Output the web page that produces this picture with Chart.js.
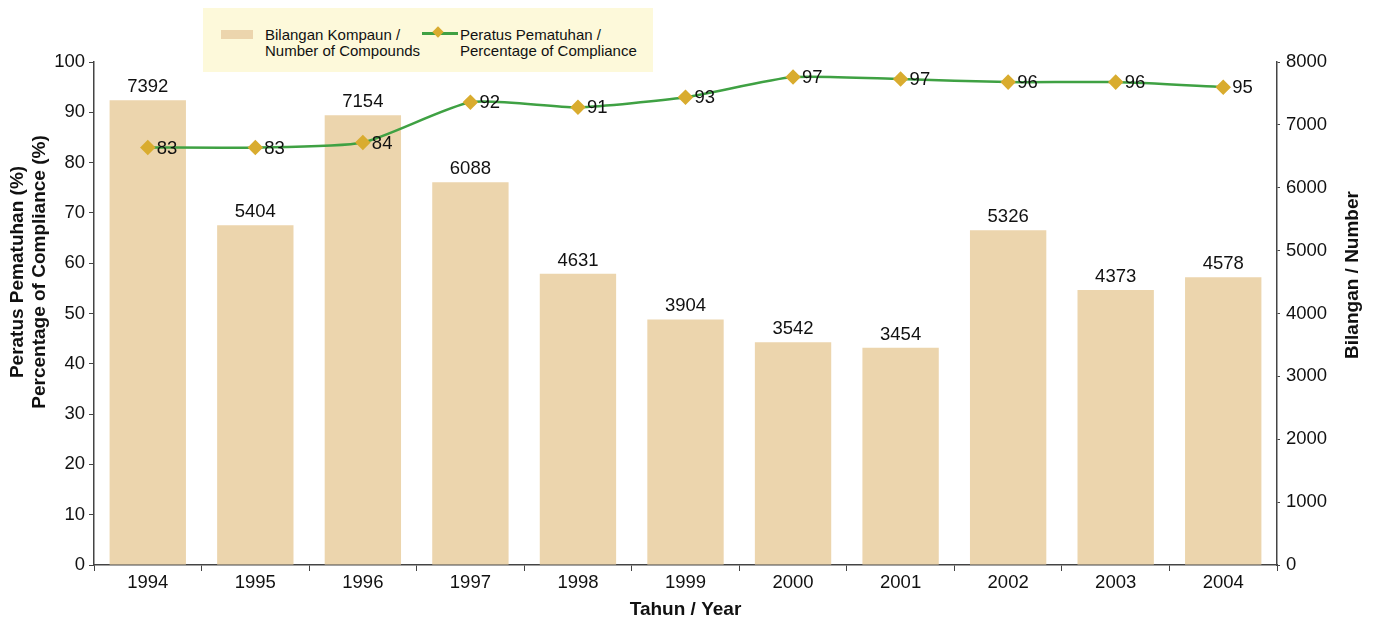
<!DOCTYPE html>
<html>
<head>
<meta charset="utf-8">
<script src="https://cdn.jsdelivr.net/npm/chart.js@4/dist/chart.umd.min.js"></script>
<style>
  html, body { margin: 0; padding: 0; background: #fff; }
  #wrap { position: relative; width: 1376px; height: 625px; }
  #legenda {
    position: absolute; left: 203px; top: 8px; width: 450px; height: 64px;
    background: #fdf9da; font-family: "Liberation Sans", Arial, sans-serif;
    font-size: 15px; line-height: 16px; color: #111;
  }
  .item { position: absolute; top: 19px; }
  .swatch { position: absolute; left: 18px; top: 22px; width: 32px; height: 9px; background: #ecd5ad; }
  .linha { position: absolute; left: 219px; top: 24px; width: 36px; height: 3px; background: #3fa143; }
  .losango { position: absolute; left: 231px; top: 20px; width: 8px; height: 8px; background: #d9ac2f; transform: rotate(45deg); }
</style>
</head>
<body>
<div id="wrap">
  <canvas id="grafico" width="1376" height="625"></canvas>
  <div id="legenda">
    <div class="swatch"></div>
    <div class="item" style="left:62px">Bilangan Kompaun /<br>Number of Compounds</div>
    <div class="linha"></div>
    <div class="losango"></div>
    <div class="item" style="left:257px">Peratus Pematuhan /<br>Percentage of Compliance</div>
  </div>
</div>
<script>
const anos = ["1994", "1995", "1996", "1997", "1998", "1999", "2000", "2001", "2002", "2003", "2004"];
const compaun = [7392, 5404, 7154, 6088, 4631, 3904, 3542, 3454, 5326, 4373, 4578];
const pematuhan = [83, 83, 84, 92, 91, 93, 97, 96.6, 96, 96, 95];
const tituloEsq = ["Peratus Pematuhan (%)", "Percentage of Compliance (%)"];
const tituloDir = "Bilangan / Number";

const fonte = "'Liberation Sans', Arial, sans-serif";

// rótulos de valores e títulos dos eixos verticais
const rotulos = {
  id: "rotulos",
  afterDatasetsDraw(chart) {
    const ctx = chart.ctx;
    ctx.save();
    ctx.fillStyle = "#111";
    ctx.font = "18.5px " + fonte;
    const barras = chart.getDatasetMeta(1);
    ctx.textAlign = "center";
    ctx.textBaseline = "bottom";
    barras.data.forEach((el, i) => {
      ctx.fillText(compaun[i], el.x, el.y - 4);
    });
    const linha = chart.getDatasetMeta(0);
    ctx.textAlign = "left";
    ctx.textBaseline = "middle";
    linha.data.forEach((el, i) => {
      ctx.fillText(Math.round(pematuhan[i]), el.x + 9, el.y + 1);
    });

    // títulos (lidos de baixo para cima)
    ctx.font = "bold 19px " + fonte;
    ctx.textAlign = "center";
    ctx.textBaseline = "middle";
    ctx.save();
    ctx.translate(18, 272);
    ctx.rotate(-Math.PI / 2);
    ctx.fillText(tituloEsq[0], 0, 0);
    ctx.fillText(tituloEsq[1], 0, 22);
    ctx.restore();
    ctx.save();
    ctx.translate(1353, 275);
    ctx.rotate(-Math.PI / 2);
    ctx.fillText(tituloDir, 0, 0);
    ctx.restore();
    ctx.restore();
  }
};

const ctx = document.getElementById("grafico").getContext("2d");
new Chart(ctx, {
  type: "bar",
  data: {
    labels: anos,
    datasets: [
      {
        type: "line",
        label: "Peratus Pematuhan / Percentage of Compliance",
        data: pematuhan,
        yAxisID: "y",
        borderColor: "#3fa143",
        borderWidth: 2.5,
        tension: 0.2,
        pointStyle: "rectRot",
        pointRadius: 6,
        pointBackgroundColor: "#d9ac2f",
        pointBorderColor: "#d9ac2f",
        order: 0
      },
      {
        label: "Bilangan Kompaun / Number of Compounds",
        data: compaun,
        yAxisID: "y2",
        backgroundColor: "#ecd5ad",
        barPercentage: 0.71,
        categoryPercentage: 1,
        order: 1
      }
    ]
  },
  options: {
    responsive: false,
    animation: false,
    layout: { padding: { top: 62, left: 0, right: 0, bottom: 0 } },
    plugins: {
      legend: { display: false },
      tooltip: { enabled: false }
    },
    scales: {
      x: {
        offset: true,
        grid: { drawOnChartArea: false, offset: true, tickLength: 6, color: "#444" },
        border: { color: "#444", width: 1.5 },
        ticks: { color: "#111", font: { size: 18.5, family: fonte }, padding: 1 },
        title: { display: true, text: "Tahun / Year", color: "#111", font: { size: 19, weight: "bold", family: fonte }, padding: { top: 2 } },
        afterFit(scale) { scale.height = 60; }
      },
      y: {
        position: "left",
        min: 0, max: 100,
        ticks: { stepSize: 10, color: "#111", font: { size: 18.5, family: fonte }, padding: 4 },
        grid: { drawOnChartArea: false, tickLength: 5, color: "#444" },
        border: { color: "#444", width: 1.5 },
        afterFit(scale) { scale.width = 94; }
      },
      y2: {
        position: "right",
        min: 0, max: 8000,
        ticks: {
          stepSize: 1000, color: "#111", font: { size: 18.5, family: fonte }, padding: 6,
          callback: (v) => String(v)
        },
        grid: { drawOnChartArea: false, tickLength: 3, color: "#444" },
        border: { color: "#444", width: 1.5 },
        afterFit(scale) { scale.width = 99; }
      }
    }
  },
  plugins: [rotulos]
});
</script>
</body>
</html>
